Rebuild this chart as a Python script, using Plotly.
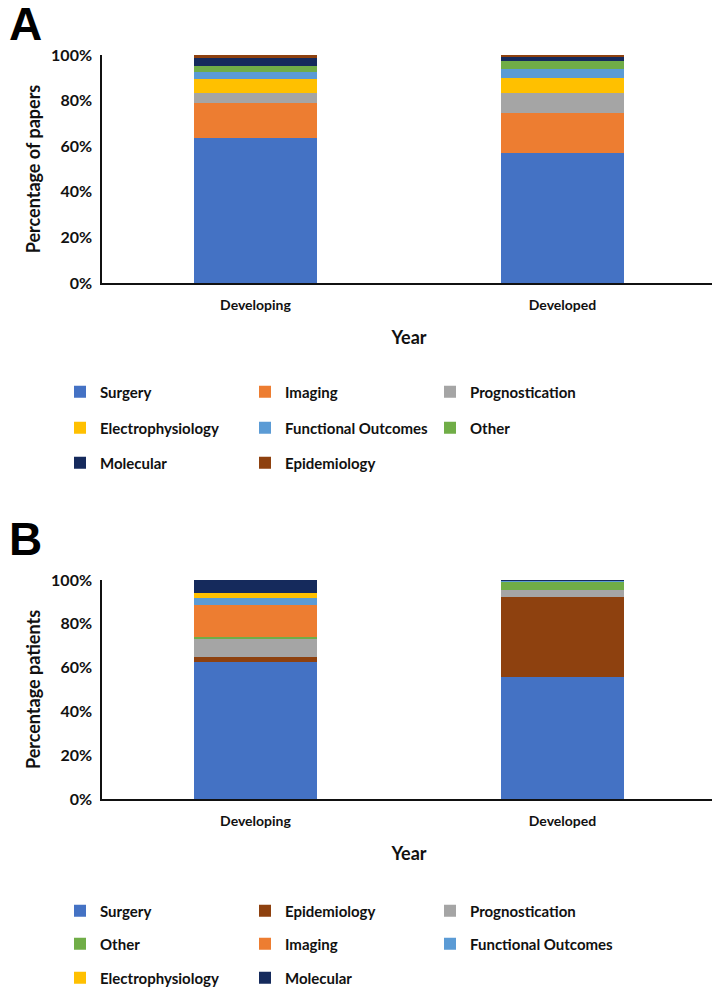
import plotly.graph_objects as go
from plotly.subplots import make_subplots

categories = ["Developing", "Developed"]

# Panel A: percentage of papers (stack order bottom -> top)
papers_series = ["Surgery", "Imaging", "Prognostication", "Electrophysiology",
                 "Functional Outcomes", "Other", "Molecular", "Epidemiology"]
surgery_papers = [63.5, 57.0]
imaging_papers = [15.3, 17.7]
prognostication_papers = [4.7, 8.8]
electrophysiology_papers = [5.9, 6.5]
functional_papers = [3.3, 3.7]
other_papers = [2.5, 3.8]
molecular_papers = [3.4, 1.5]
epidemiology_papers = [1.4, 1.0]

# Panel B: percentage of patients (stack order bottom -> top)
patients_series = ["Surgery", "Epidemiology", "Prognostication", "Other",
                   "Imaging", "Functional Outcomes", "Electrophysiology", "Molecular"]
surgery_patients = [62.7, 55.8]
epidemiology_patients = [2.0, 36.6]
prognostication_patients = [8.4, 3.0]
other_patients = [1.0, 3.9]
imaging_patients = [14.5, 0.2]
functional_patients = [3.0, 0.1]
electrophysiology_patients = [2.6, 0.1]
molecular_patients = [5.8, 0.3]

y_ticks = [0, 20, 40, 60, 80, 100]
y_tick_labels = ["0%", "20%", "40%", "60%", "80%", "100%"]

colors = {
    "Surgery": "#4472C4",
    "Imaging": "#ED7D31",
    "Prognostication": "#A5A5A5",
    "Electrophysiology": "#FFC000",
    "Functional Outcomes": "#5B9BD5",
    "Other": "#70AD47",
    "Molecular": "#152a5c",
    "Epidemiology": "#8E410F",
}

papers_values = [surgery_papers, imaging_papers, prognostication_papers,
                 electrophysiology_papers, functional_papers, other_papers,
                 molecular_papers, epidemiology_papers]
patients_values = [surgery_patients, epidemiology_patients, prognostication_patients,
                   other_patients, imaging_patients, functional_patients,
                   electrophysiology_patients, molecular_patients]

# page has an 8px body margin; figure coordinates = page coordinates - 8
OFF = 8
W, H = 720 - OFF, 990 - OFF
ML = 102 - OFF
MR = W - (716 - OFF)
MT = 55 - OFF
MB = H - (799 - OFF)
PH = H - MT - MB
PW = W - ML - MR

def py(p):  # p: page pixel y
    return (H - MB - (p - OFF)) / PH

def px(p):  # p: page pixel x
    return ((p - OFF) - ML) / PW

def cx(p):  # p: figure pixel x
    return p / W

def cy(p):  # p: page pixel y
    return 1 - (p - OFF) / H

fig = make_subplots(rows=2, cols=1, vertical_spacing=0.0)

legend_names = ["legend", "legend2", "legend3", "legend4", "legend5", "legend6"]

for i, (name, vals) in enumerate(zip(papers_series, papers_values)):
    fig.add_trace(go.Bar(x=categories, y=vals, name=name,
                         marker=dict(color=colors[name], line=dict(width=0)),
                         width=0.4, legend=legend_names[i // 3]), row=1, col=1)

for i, (name, vals) in enumerate(zip(patients_series, patients_values)):
    fig.add_trace(go.Bar(x=categories, y=vals, name=name,
                         marker=dict(color=colors[name], line=dict(width=0)),
                         width=0.4, legend=legend_names[3 + i // 3]), row=2, col=1)

font = dict(family="Lato", size=15, color="#111111", weight="bold")

row_centers = [392, 428, 463, 911, 944, 978]
legend_layout = {}
for ln, rc in zip(legend_names, row_centers):
    legend_layout[ln] = dict(
        orientation="h", xref="container", yref="container",
        x=cx(52), xanchor="left", y=cy(rc), yanchor="middle",
        entrywidth=140, entrywidthmode="pixels", font=font,
        bgcolor="rgba(0,0,0,0)", traceorder="normal", itemclick=False,
    )

fig.update_layout(
    width=W, height=H,
    margin=dict(l=ML, r=MR, t=MT, b=MB, autoexpand=False),
    barmode="stack",
    plot_bgcolor="white", paper_bgcolor="white",
    font=font,
    **legend_layout,
)

fig.update_layout(
    yaxis=dict(domain=[py(283), 1.0]),
    yaxis2=dict(domain=[0.0, py(580)]),
)

title_font = dict(family="Lato", size=18, weight="bold", color="#111111")
for r, ytitle in [(1, "Percentage of papers"), (2, "Percentage patients")]:
    fig.update_yaxes(range=[0, 100], tickvals=y_ticks, ticktext=y_tick_labels,
                     showgrid=False, zeroline=False, showline=True,
                     linecolor="#111111", linewidth=1.5, ticks="",
                     ticklabelstandoff=5, automargin=False,
                     tickfont=dict(family="Lato", size=16, weight="bold", color="#111111"),
                     title=dict(text=ytitle, font=title_font, standoff=6),
                     row=r, col=1)
    fig.update_xaxes(showgrid=False, showline=True, linecolor="#111111", linewidth=1.5,
                     ticks="", ticklabelstandoff=8, automargin=False,
                     tickfont=dict(family="Lato", size=14, weight="bold", color="#111111"),
                     title=dict(text="Year", font=title_font, standoff=20),
                     row=r, col=1)

for label, yc in [("A", 24.5), ("B", 539)]:
    fig.add_annotation(text=label, xref="paper", yref="paper", x=px(7), y=py(yc),
                       xanchor="left", yanchor="middle", showarrow=False,
                       font=dict(family="Liberation Sans", size=46, weight="bold", color="black"))

fig.write_html("out.html")
